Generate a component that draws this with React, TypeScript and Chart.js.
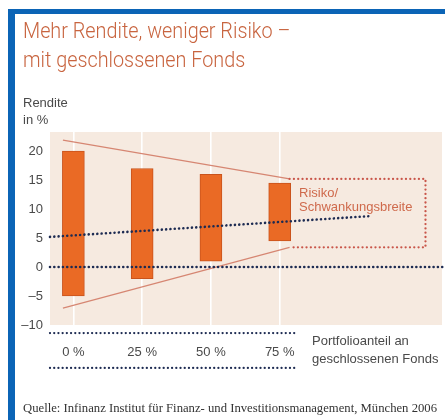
import React, { useEffect, useRef } from 'react';
import { Chart, registerables } from 'chart.js';

Chart.register(...registerables);

// ---- data ----
const CATEGORIES = ['0 %', '25 %', '50 %', '75 %'];
const X_VALUES = [0, 25, 50, 75];
const RANGE_LOW = [-5, -2, 1, 4.5];
const RANGE_HIGH = [20, 17, 16, 14.5];
const Y_TICKS = [20, 15, 10, 5, 0, -5, -10];
const FUNNEL_TOP = [{ x: -3.8, y: 21.9 }, { x: 78.6, y: 15.2 }];
const FUNNEL_BOTTOM = [{ x: -3.8, y: -7.1 }, { x: 78.6, y: 3.4 }];
const RISK_BOX = [{ x: 78.6, y: 15.2 }, { x: 128, y: 15.2 }, { x: 128, y: 3.4 }, { x: 78.6, y: 3.4 }];
const TREND = [{ x: -8.5, y: 5.2 }, { x: 108, y: 8.8 }];
const ZERO_LINE = [{ x: -8.5, y: 0 }, { x: 135, y: 0 }];
const TABLE_TOP = [{ x: -8.5, y: -11.4 }, { x: 81.5, y: -11.4 }];
const TABLE_BOTTOM = [{ x: -8.5, y: -17.4 }, { x: 81.5, y: -17.4 }];

const NAVY = '#1d2b52';
const RED_DOT = '#c9564a';
const ORANGE = '#ea6a25';
const SALMON = '#c8643f';
const GRAY = '#4a4a4a';

const bgPlugin = {
  id: 'plotBg',
  beforeDraw(chart: any) {
    const { ctx, chartArea } = chart;
    const { left, top, right, bottom } = chartArea;
    ctx.save();
    ctx.fillStyle = '#f6eae0';
    ctx.fillRect(left, top, right - left, bottom - top);
    ctx.restore();
  },
};

function dotted(data: any[], color: string, width: number, gap: number) {
  return {
    type: 'line' as const,
    data,
    borderColor: color,
    borderWidth: width,
    borderDash: [0.01, gap],
    borderCapStyle: 'round',
    pointRadius: 0,
    fill: false,
    tension: 0,
    clip: false as any,
    order: 0,
  };
}

export default function App() {
  const ref = useRef<HTMLCanvasElement | null>(null);

  useEffect(() => {
    if (!ref.current) return;
    const chart = new Chart(ref.current, {
      type: 'bar',
      data: {
        datasets: [
          {
            type: 'bar',
            data: X_VALUES.map((x, i) => ({ x, y: [RANGE_LOW[i], RANGE_HIGH[i]] })) as any,
            backgroundColor: ORANGE,
            borderColor: '#c9531c',
            borderWidth: 1,
            borderSkipped: false,
            barThickness: 22,
            order: 10,
          } as any,
          {
            type: 'line',
            data: FUNNEL_TOP,
            borderColor: '#d68672',
            borderWidth: 1.2,
            pointRadius: 0,
            fill: false,
            clip: false,
            order: 1,
          } as any,
          {
            type: 'line',
            data: FUNNEL_BOTTOM,
            borderColor: '#d68672',
            borderWidth: 1.2,
            pointRadius: 0,
            fill: false,
            clip: false,
            order: 1,
          } as any,
          dotted(RISK_BOX, RED_DOT, 2.3, 4.3) as any,
          dotted(TREND, NAVY, 2.6, 4.3) as any,
          dotted(ZERO_LINE, NAVY, 2.6, 4.3) as any,
          dotted(TABLE_TOP, NAVY, 2.3, 4.2) as any,
          dotted(TABLE_BOTTOM, NAVY, 2.3, 4.2) as any,
        ],
      },
      options: {
        responsive: false,
        animation: false,
        layout: { padding: { top: 132, right: 3, bottom: 0, left: 0 } },
        plugins: { legend: { display: false }, tooltip: { enabled: false } },
        scales: {
          x: {
            type: 'linear',
            min: -8.5,
            max: 134,
            offset: false,
            afterBuildTicks: (scale: any) => {
              scale.ticks = X_VALUES.map((v) => ({ value: v }));
            },
            afterFit: (scale: any) => {
              scale.height = 95;
            },
            grid: { color: '#ffffff', lineWidth: 1.6, drawTicks: false, offset: false },
            border: { display: false },
            ticks: {
              padding: 20,
              color: GRAY,
              font: { family: 'Liberation Sans', size: 13 },
              callback: (v: any) => {
                const i = X_VALUES.indexOf(Number(v));
                return i >= 0 ? CATEGORIES[i] : '';
              },
            },
          },
          y: {
            type: 'linear',
            min: -10,
            max: 23.3,
            afterBuildTicks: (scale: any) => {
              scale.ticks = Y_TICKS.map((v) => ({ value: v }));
            },
            afterFit: (scale: any) => {
              scale.width = 50;
            },
            grid: { display: false, drawTicks: false },
            border: { display: false },
            ticks: {
              padding: 7,
              color: GRAY,
              font: { family: 'Liberation Sans', size: 13 },
              callback: (v: any) => String(v).replace('-', '\u2013'),
            },
          },
        },
      } as any,
      plugins: [bgPlugin],
    });
    return () => chart.destroy();
  }, []);

  const abs = (extra: React.CSSProperties): React.CSSProperties => ({
    position: 'absolute',
    whiteSpace: 'nowrap',
    lineHeight: 1,
    ...extra,
  });

  const title: React.CSSProperties = {
    fontFamily: 'Roboto',
    fontWeight: 300,
    fontSize: 22,
    color: SALMON,
    transform: 'scaleX(0.9)',
    transformOrigin: 'left top',
  };

  return (
    <div style={{ position: 'fixed', left: 0, top: 0, width: 445, height: 420, background: '#fff', overflow: 'hidden' }}>
      <div
        style={{
          position: 'absolute',
          left: 8,
          top: 9,
          width: 460,
          height: 430,
          borderTop: '5px solid #0b64b6',
          borderLeft: '7px solid #0b64b6',
          boxSizing: 'border-box',
        }}
      />
      <canvas ref={ref} width={445} height={420} style={{ position: 'absolute', left: 0, top: 0 }} />
      <div style={abs({ left: 23, top: 20, ...title })}>Mehr Rendite, weniger Risiko –</div>
      <div style={abs({ left: 23, top: 49, ...title })}>mit geschlossenen Fonds</div>
      <div style={abs({ left: 23, top: 96, fontFamily: 'Liberation Sans', fontSize: 13, color: GRAY })}>Rendite</div>
      <div style={abs({ left: 23, top: 113, fontFamily: 'Liberation Sans', fontSize: 13, color: GRAY })}>in %</div>
      <div style={abs({ left: 299, top: 186, fontFamily: 'Liberation Sans', fontSize: 13, color: '#cf6a4c' })}>Risiko/</div>
      <div style={abs({ left: 299, top: 200, fontFamily: 'Liberation Sans', fontSize: 13, color: '#cf6a4c' })}>
        Schwankungsbreite
      </div>
      <div style={abs({ left: 312, top: 334, fontFamily: 'Liberation Sans', fontSize: 13, color: GRAY })}>
        Portfolioanteil an
      </div>
      <div style={abs({ left: 312, top: 352, fontFamily: 'Liberation Sans', fontSize: 13, color: GRAY })}>
        geschlossenen Fonds
      </div>
      <div style={abs({ left: 23, top: 402, fontFamily: 'Liberation Serif', fontSize: 12.7, color: '#333' })}>
        Quelle: Infinanz Institut für Finanz- und Investitionsmanagement, München 2006
      </div>
    </div>
  );
}
